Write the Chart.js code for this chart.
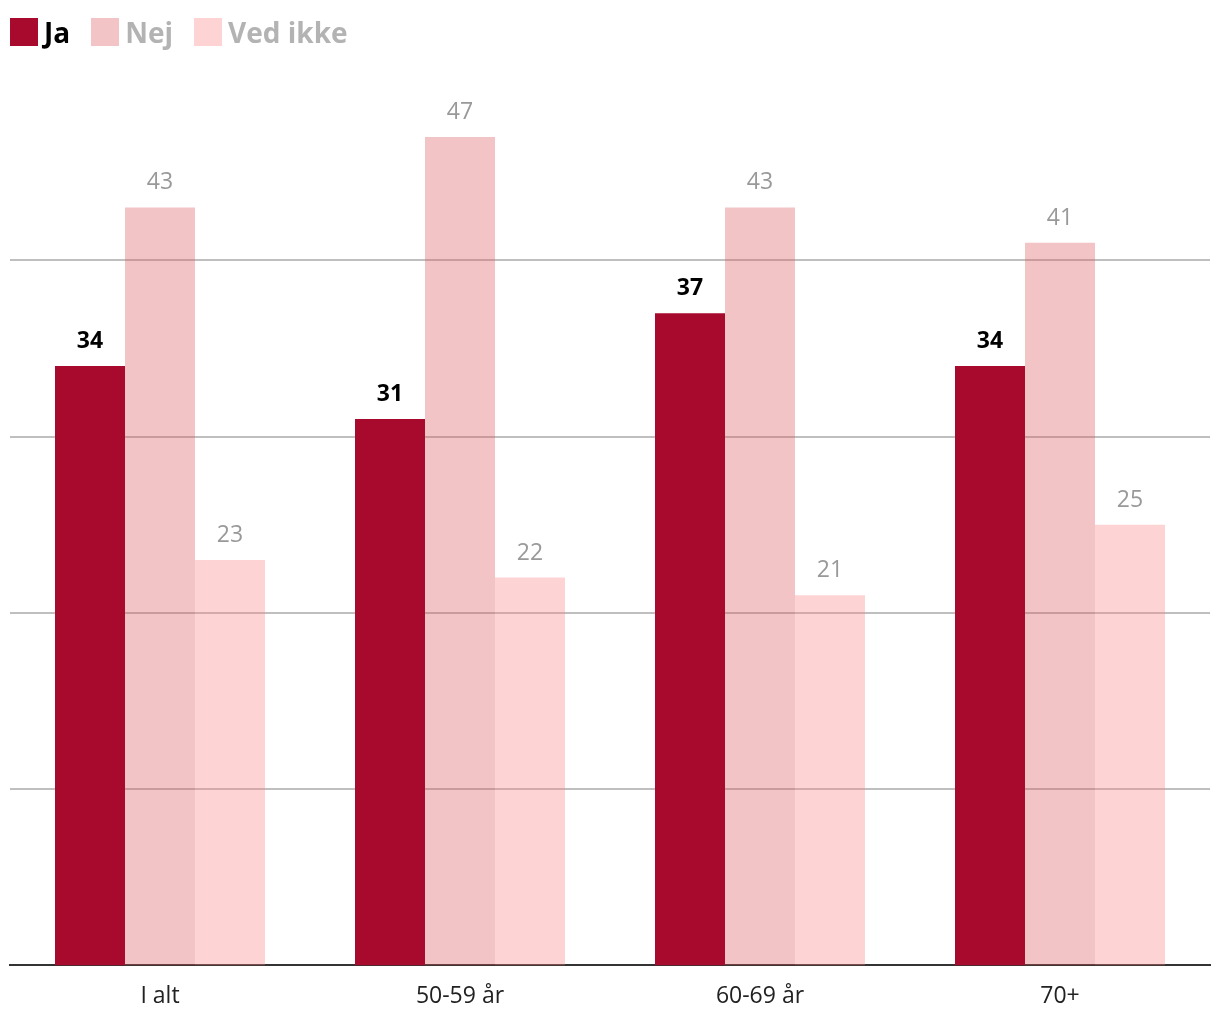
<!DOCTYPE html>
<html>
<head>
<meta charset="utf-8">
<script src="https://cdn.jsdelivr.net/npm/chart.js@4/dist/chart.umd.min.js"></script>
<style>
  html, body { margin: 0; padding: 0; background: #fff; }
  #wrap { width: 1220px; height: 1020px; position: relative; }
  #legend { position: absolute; left: 10px; top: 13px; display: flex; font-family: "Open Sans"; font-weight: bold; font-size: 28px; line-height: 38px; }
  #legend span.item { display: flex; align-items: center; margin-right: 21px; }
  #legend span.box { width: 28px; height: 28px; display: inline-block; margin-right: 6px; }
</style>
</head>
<body>
<div id="wrap"><canvas id="myChart"></canvas><div id="legend"></div></div>
<script>
var categories = ['I alt', '50-59 år', '60-69 år', '70+'];
var seriesNames = ['Ja', 'Nej', 'Ved ikke'];
var jaValues = [34, 31, 37, 34];
var nejValues = [43, 47, 43, 41];
var vedIkkeValues = [23, 22, 21, 25];
var gridTicks = [10, 20, 30, 40];

// the two light series are see-through, the grid shows through them
var colors = ['#A80A2D', 'rgba(218,86,92,0.35)', 'rgba(252,129,132,0.35)'];
var legendText = ['#000000', '#B3B3B3', '#B3B3B3'];

// legend as html, so the spacing can match
var legendEl = document.getElementById('legend');
seriesNames.forEach(function (name, i) {
    var item = document.createElement('span');
    item.className = 'item';
    item.innerHTML = '<span class="box" style="background:' + colors[i] + '"></span>' +
        '<span style="color:' + legendText[i] + '">' + name + '</span>';
    legendEl.appendChild(item);
});

// labels over bars: Ja bold black, the others plain grey
var barLabels = {
    id: 'barLabels',
    afterDatasetsDraw: function (chart) {
        var ctx = chart.ctx;
        ctx.save();
        ctx.textAlign = 'center';
        ctx.textBaseline = 'alphabetic';
        chart.data.datasets.forEach(function (ds, i) {
            var meta = chart.getDatasetMeta(i);
            ctx.font = (i === 0 ? 'bold ' : '') + '23px "Open Sans"';
            ctx.fillStyle = i === 0 ? '#000' : '#999';
            meta.data.forEach(function (bar, j) {
                ctx.fillText(ds.data[j], bar.x, bar.y - 18);
            });
        });
        ctx.restore();
    }
};

var ctx = document.getElementById('myChart').getContext('2d');

var chart = new Chart(ctx, {
    type: 'bar',
    data: {
        labels: categories,
        datasets: [
            { label: seriesNames[0], data: jaValues, backgroundColor: colors[0] },
            { label: seriesNames[1], data: nejValues, backgroundColor: colors[1] },
            { label: seriesNames[2], data: vedIkkeValues, backgroundColor: colors[2] }
        ]
    },
    options: {
        responsive: true,
        maintainAspectRatio: false,
        animation: false,
        layout: { padding: { left: 10, right: 10, top: 84, bottom: 1 } },
        datasets: { bar: { categoryPercentage: 0.7, barPercentage: 1.0 } },
        plugins: {
            legend: { display: false },
            tooltip: { enabled: false }
        },
        scales: {
            x: {
                grid: { display: false },
                border: { color: '#333', width: 2 },
                ticks: {
                    color: '#222',
                    padding: 9,
                    font: { family: '"Open Sans"', size: 23 }
                }
            },
            y: {
                min: 0,
                max: 50,
                border: { display: false },
                afterBuildTicks: function (axis) {
                    axis.ticks = gridTicks.map(function (v) { return { value: v }; });
                },
                grid: { color: 'rgba(0,0,0,0.25)', lineWidth: 2, drawTicks: false },
                ticks: { display: false }
            }
        }
    },
    plugins: [barLabels]
});
</script>
</body>
</html>
